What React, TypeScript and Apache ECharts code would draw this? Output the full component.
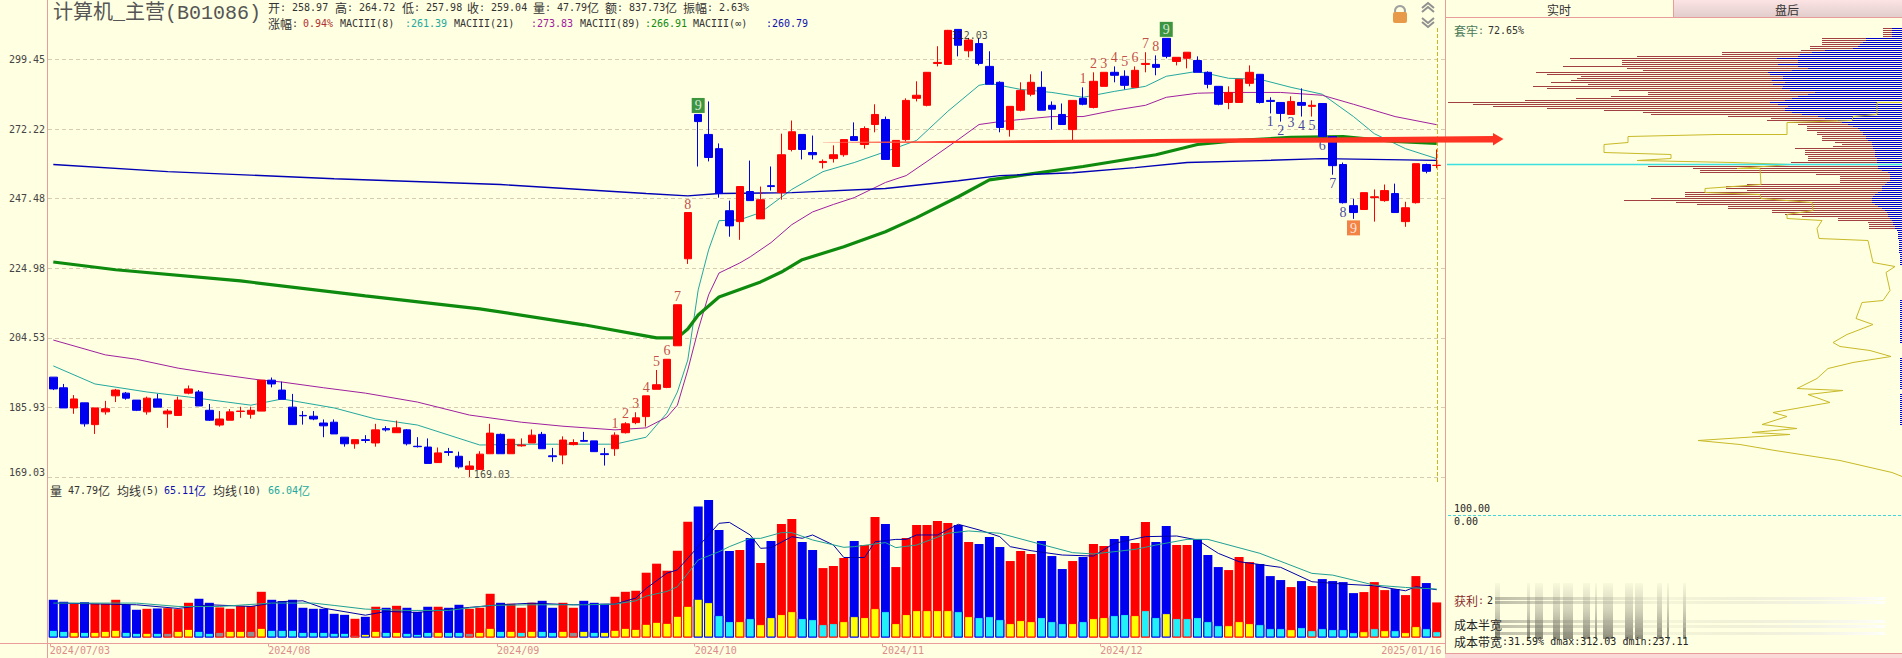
import React, { useEffect, useRef } from "react";
import * as echarts from "echarts";

const candleColors = [
  "B","B","R","B","R","R","R","B","B","R",
  "B","R","R","R","B","B","R","R","R","R",
  "R","B","B","B","B","B","B","B","B","R",
  "B","R","B","R","B","B","B","R","B","B",
  "R","R","R","B","R","R","R","B","B","R",
  "R","B","B","B","R","R","R","R","R","R",
  "R","R","B","B","B","B","R","B","R","B",
  "R","R","B","B","R","R","R","B","R","R",
  "B","R","R","R","R","R","R","B","R","B",
  "B","B","R","R","R","B","B","B","R","B",
  "R","R","B","B","R","R","B","B","R","R",
  "B","B","B","R","R","R","B","B","B","R",
  "B","R","B","B","B","B","R","R","R","B",
  "R","R","B","R",
];
const bodyTops = [
  193.8,191.0,188.1,187.1,185.8,185.6,190.4,189.6,187.8,188.3,
  188.1,185.0,187.8,190.7,189.9,185.2,183.0,184.8,185.0,185.2,
  193.0,193.0,190.4,186.0,183.9,183.7,182.0,182.2,178.5,177.9,
  177.9,180.3,180.6,180.8,180.3,176.3,176.1,174.7,175.0,173.9,
  171.6,174.4,179.5,179.2,178.0,176.6,179.0,179.2,174.0,177.8,
  177.2,177.7,177.6,174.5,179.0,181.8,183.3,188.9,191.8,198.6,
  214.0,242.8,277.7,270.2,265.0,243.4,251.6,249.9,247.1,251.9,
  262.8,271.2,270.2,263.6,260.4,262.8,268.3,269.4,272.4,277.7,
  275.8,268.0,283.1,285.1,294.2,298.2,311.6,312.0,307.5,306.0,
  296.6,290.2,280.8,287.0,290.2,288.2,281.2,277.7,283.1,283.9,
  290.6,294.2,294.2,292.6,295.0,297.8,297.4,308.2,300.3,302.4,
  299.0,294.2,288.6,286.2,291.4,294.2,293.4,283.1,282.3,282.7,
  282.3,281.2,281.9,269.4,259.3,245.1,249.5,248.1,250.2,249.2,
  244.4,259.6,259.3,259.04,
];
const bodyBottoms = [
  190.7,185.8,185.8,181.8,181.6,184.8,188.9,188.3,185.2,184.8,
  186.0,184.3,183.9,189.6,186.3,182.7,181.5,182.7,184.9,184.2,
  185.0,192.0,188.0,181.6,183.8,183.0,181.3,179.3,176.9,176.9,
  177.7,177.1,180.3,179.6,176.9,176.2,172.2,172.4,174.8,171.4,
  170.8,170.8,174.5,174.5,174.5,176.4,177.1,175.7,173.8,174.2,
  176.7,177.5,175.0,174.3,175.7,179.6,182.1,183.6,190.6,191.1,
  202.3,227.9,275.0,261.8,249.2,238.4,239.8,246.8,240.7,251.6,
  249.5,264.7,264.7,262.8,260.0,261.4,262.8,268.0,266.5,273.9,
  261.1,258.6,268.3,283.9,281.2,297.8,297.4,305.3,303.0,297.8,
  289.4,272.8,272.0,279.3,285.5,279.3,279.7,273.9,272.0,281.6,
  280.4,288.6,293.0,289.0,288.2,297.4,296.2,300.7,298.6,299.9,
  294.2,289.4,281.6,282.3,282.3,289.8,282.3,282.7,278.1,277.7,
  281.2,280.8,269.4,258.9,246.1,242.8,243.8,247.8,246.8,242.8,
  239.8,246.1,256.9,258.97,
];
const highs = [
  193.8,192.0,189.1,187.1,185.8,187.6,190.7,189.9,187.8,188.7,
  189.4,185.5,188.7,191.6,190.4,186.8,185.0,185.5,186.1,186.1,
  193.0,193.7,192.6,189.4,185.0,185.0,182.9,182.9,178.5,177.9,
  179.0,181.8,181.2,182.6,180.5,178.5,178.2,176.0,175.9,175.0,
  172.8,175.1,181.8,179.4,178.0,178.2,180.4,179.8,175.9,178.7,
  178.0,179.8,177.6,175.9,179.7,182.2,184.7,188.9,195.7,198.6,
  214.0,242.8,277.7,282.7,266.9,246.8,251.6,260.7,251.6,258.6,
  270.5,275.4,270.2,269.8,261.1,266.2,268.3,274.7,273.2,281.6,
  276.9,268.0,283.9,290.6,294.2,304.9,311.8,312.03,308.4,308.4,
  302.8,290.6,280.8,290.2,293.4,294.6,282.7,281.9,283.1,288.2,
  294.2,294.2,296.6,295.0,296.6,302.4,301.1,308.2,300.3,302.4,
  300.7,294.6,288.6,288.6,291.4,297.0,293.4,284.3,282.3,284.7,
  287.8,283.1,281.9,269.4,260.0,247.4,249.5,250.6,252.3,252.6,
  246.4,259.6,259.6,264.72,
];
const lows = [
  190.4,185.8,184.3,181.1,179.3,184.1,187.3,187.9,185.0,184.1,
  186.0,180.8,183.9,189.3,186.3,182.5,181.1,182.7,183.3,183.1,
  185.0,191.1,188.0,181.6,181.6,182.7,178.5,179.3,176.2,175.7,
  177.1,176.2,179.9,179.6,176.5,176.0,172.2,172.4,174.0,171.0,
  169.03,170.8,174.5,174.5,174.5,176.2,177.1,175.7,172.6,172.0,
  176.5,177.4,175.0,171.7,174.0,179.4,181.7,181.1,190.6,190.9,
  202.3,226.3,258.6,260.4,247.8,234.9,233.9,246.8,240.7,250.2,
  247.1,264.0,261.1,261.1,257.9,260.0,262.1,268.0,265.0,271.0,
  261.1,258.6,267.6,282.7,280.8,296.6,297.4,300.7,300.3,297.0,
  289.4,271.0,269.4,278.9,284.7,279.3,272.0,273.9,267.6,281.2,
  280.0,288.6,290.2,287.4,288.2,294.2,293.0,299.9,297.0,295.8,
  294.2,287.8,281.2,279.7,282.3,288.6,281.9,278.1,275.0,277.7,
  276.9,276.9,269.4,255.7,245.8,240.7,243.8,239.8,246.4,242.8,
  238.1,245.8,256.2,257.98,
];
const volumes = [
  51.4,48.7,46.0,48.2,46.0,46.0,51.4,44.6,37.8,39.1,
  39.6,40.0,38.7,47.3,52.8,47.3,41.0,39.1,42.8,42.8,
  62.3,51.4,49.6,51.4,40.5,39.1,39.1,32.3,30.9,25.5,
  28.2,41.9,40.5,43.2,40.5,35.0,41.9,41.9,40.5,44.6,
  39.1,40.5,59.6,47.3,46.0,40.5,47.3,50.0,40.5,47.3,
  40.5,50.0,47.3,46.0,55.5,62.3,63.7,88.3,100.6,91.0,
  118.3,157.9,178.4,187.5,146.5,117.8,119.2,135.6,101.5,131.5,
  154.7,161.5,130.1,119.2,94.6,97.4,108.3,131.5,126.0,164.3,
  154.7,96.0,135.6,153.3,153.3,158.8,156.1,153.3,130.1,127.4,
  137.0,123.3,104.2,117.8,113.8,131.5,111.0,93.3,104.2,109.7,
  127.4,124.7,134.2,138.3,128.8,157.4,130.1,152.0,126.0,126.0,
  134.2,112.4,96.0,91.9,109.7,102.8,100.1,83.7,78.3,68.7,
  76.9,70.1,79.6,76.9,75.5,60.5,61.9,75.5,64.6,66.0,
  57.8,83.7,74.2,47.79,
];
const innerVolumes = [
  10.5,9.1,7.7,7.7,7.7,9.1,10.5,7.7,6.4,6.4,
  6.4,6.4,9.1,11.8,9.1,6.4,7.7,9.1,9.1,9.1,
  13.2,10.5,10.5,10.5,7.7,7.7,7.7,6.4,6.4,3.6,
  5.0,9.1,7.7,7.7,6.4,5.0,7.7,7.7,7.7,7.7,
  6.4,7.7,13.2,9.1,9.1,7.7,9.1,9.1,7.7,9.1,
  7.7,9.1,7.7,7.7,10.5,13.2,11.8,18.7,21.4,20.0,
  29.6,43.2,52.8,48.2,30.5,22.3,22.3,26.4,18.2,27.8,
  31.9,35.9,26.4,25.0,18.2,19.6,22.3,29.1,27.8,40.0,
  35.9,19.6,31.9,37.3,37.3,37.3,37.3,35.9,29.1,27.8,
  29.1,25.0,19.6,23.7,22.3,27.8,22.3,19.6,19.6,22.3,
  26.4,27.8,30.5,31.9,30.5,37.3,27.8,33.2,26.4,26.4,
  27.8,22.3,16.8,16.8,22.3,19.6,18.2,12.7,12.7,11.4,
  14.1,10.0,12.7,11.4,11.4,7.3,8.6,12.7,10.0,10.0,
  7.3,15.5,12.7,8.6,
];
const innerKinds =
  "ccycyyyccycgyyccgyygy" + "ccccccccgyycycccyccg" + "yycycyccygyc" + "yyyyyyyyyy" +
  "yccycyyyycccc" + "yyyycyyyyyycy" + "cccyyyccc" + "ycyyccyccycccccyyyccc" + "yccccccycyc" + "yycc";

const ma8Line = [
  [0,196.8],[4,192.0],[9,189.9],[13,188.6],[19,186.5],[22,188.1],[27,185.8],[31,183.0],[35,181.5],
  [41,176.6],[46,176.8],[50,176.8],[54,176.8],[57,178.5],[59,184.5],[60,189.9],[61,198.4],[62,218.4],
  [63,230.7],[64,240.1],[66,240.4],[68,242.8],[71,250.6],[74,256.8],[77,260.0],[80,263.9],[83,268.0],
  [86,278.9],[89,289.0],[90,289.8],[93,287.4],[96,286.2],[99,284.3],[102,286.6],[105,288.6],[107,292.6],
  [110,294.6],[113,291.8],[116,291.4],[119,288.2],[122,285.5],[125,276.9],[127,270.5],[130,265.0],[133,261.39],
];
const ma21Line = [
  [0,203.9],[5,199.8],[8,198.6],[12,196.2],[15,194.9],[20,193.0],[22,192.5],[26,191.0],[30,189.6],
  [35,187.3],[40,184.0],[45,182.2],[49,181.2],[54,180.3],[57,180.8],[59,183.5],[60,186.5],[61,195.7],
  [62,206.8],[63,216.9],[64,223.5],[66,226.6],[67,228.5],[69,233.0],[71,238.8],[73,243.0],[75,245.5],
  [77,247.8],[80,253.0],[82,255.4],[84,260.4],[87,268.3],[89,273.9],[91,275.0],[93,275.8],[96,276.9],
  [99,276.9],[102,279.3],[105,281.2],[107,284.3],[110,285.9],[113,286.2],[118,286.2],[122,285.1],
  [125,281.6],[129,276.9],[133,273.83],
];
const ma89Line = [
  [0,226.9],[6,224.5],[18,221.1],[30,216.6],[41,212.8],[51,208.2],[58,204.5],[60,204.5],[61,207.0],
  [62,211.0],[64,216.3],[68,220.8],[70,223.8],[72,227.6],[76,231.7],[80,236.5],[83,241.1],[87,248.1],
  [90,253.9],[94,256.0],[99,258.6],[106,262.8],[110,266.5],[114,268.0],[119,269.1],[124,269.4],[129,267.6],[133,266.91],
];
const maInfLine = [
  [0,259.3],[11,256.8],[27,254.3],[43,252.3],[57,249.2],[61,248.4],[64,249.2],[71,249.5],[80,250.9],
  [87,253.6],[91,255.4],[98,256.4],[104,258.2],[109,260.0],[116,260.7],[122,261.4],[133,260.79],
];
const volMa5Line = [
  [0,47],[8,44.6],[12,39.6],[15,44.6],[19,42.3],[22,49],[24,50],[26,40],[30,30.4],[32,35.5],[35,34.1],
  [40,41],[43,44.6],[46,46.8],[50,44.6],[54,45.5],[56,53.7],[57,66.9],[59,87.8],[60,92.1],[62,123.9],
  [64,155.6],[65,156.9],[67,139.7],[68,121.5],[69,122.4],[71,137.4],[72,135.2],[73,139.7],[75,126],
  [76,109],[78,109],[79,130.5],[81,133.7],[82,133.7],[83,139.7],[85,139.7],[87,154.3],[89,146.6],
  [91,137.4],[92,123.8],[94,118.3],[97,112.4],[100,111],[102,128.3],[105,137.4],[108,138.3],[110,132.9],
  [112,114.7],[114,103.3],[118,95.6],[121,76],[124,72.8],[127,70.5],[130,63.7],[131,69.2],[133,65.11],
];
const volMa10Line = [
  [0,46.9],[8,46.9],[12,42.3],[16,42.3],[21,46.9],[25,46.9],[27,43.7],[30,38.7],[34,36.9],[38,36.9],
  [42,43.7],[46,44.6],[51,44.6],[54,45.5],[56,50],[57,56.4],[59,62.8],[60,69.2],[62,105.6],[64,116.9],
  [65,123.8],[67,135.1],[68,135.1],[70,142.9],[71,142.9],[73,132.9],[76,122.9],[77,123.8],[80,129.3],
  [81,122.5],[83,126],[86,142],[88,145.2],[91,142],[94,130.6],[98,115.6],[100,113.8],[104,120.1],
  [106,126],[109,133.7],[111,133.7],[116,114.7],[121,87.4],[123,85],[127,71.4],[130,68.2],[133,66.04],
];

const chipRed = [
  19,19,19,19,19,80,80,80,80,92,
  92,101,180,180,265,332,280,280,280,339,
  275,259,366,355,321,325,331,351,314,369,
  355,283,254,254,291,326,377,454,429,409,
  355,298,259,251,174,131,135,115,104,95,
  95,95,85,85,80,80,80,67,60,69,
  107,97,97,97,94,94,94,111,110,254,
  209,202,202,86,62,62,62,62,155,176,
  176,155,217,217,217,251,278,226,205,174,
  174,130,130,117,100,64,64,34,33,33,
  33,5,
];
const chipBlue = [
  10,10,10,10,10,36,36,39,42,44,
  49,77,90,102,104,125,104,104,124,104,
  94,110,134,132,119,119,130,117,129,119,
  120,112,87,94,104,110,117,132,124,114,
  117,117,110,100,84,77,64,60,54,49,
  44,42,39,39,36,36,34,30,30,29,
  29,27,27,27,27,25,25,25,25,24,
  24,20,14,12,12,12,12,15,17,20,
  20,20,24,27,29,30,30,30,27,24,
  20,17,15,14,14,12,10,9,9,7,
  7,5,4,4,4,4,3,3,3,3,
  3,3,3,2,2,2,2,2,2,0,
  0,0,0,0,0,0,0,0,0,0,
  0,0,0,0,0,0,2,2,2,2,
  2,2,2,2,2,2,2,2,2,2,
  2,2,2,2,2,2,2,2,0,0,
  0,0,0,0,0,2,2,2,2,2,
  2,2,2,2,2,2,2,2,2,2,
  2,0,0,2,2,2,2,2,2,2,
  2,2,2,2,2,2,2,2,2,0,
];
const costCurve = [
  [0,37],[25,37],[25,43],[49,44],[50,46],[115,47],[115,53],[185,53],[274,54],[274,57],[298,58],[298,62],
  [231,63],[231,65],[265,66],[169,67],[112,68],[165,70],[142,70],[141,78],[197,80],[197,82],[142,83],
  [141,85],[90,87],[89,91],[115,93],[115,95],[80,96],[85,100],[83,105],[34,106],[29,117],[7,119],[16,122],
  [12,131],[19,136],[40,137],[46,145],[29,148],[55,153],[69,157],[62,159],[32,161],[11,164],[49,167],
  [74,170],[85,175],[105,180],[59,181],[94,183],[72,187],[129,192],[115,194],[140,198],[105,200],[150,202],
  [112,203],[204,206],[162,208],[127,211],[62,216],[10,222],[0,224],
];
const currentPriceRow = [[455,68],[0,68]];

const yTickLabels = ["169.03","185.93","204.53","224.98","247.48","272.22","299.45"];
const dateLabels: Record<number,string> = {
  0:"2024/07/03",21:"2024/08",43:"2024/09",62:"2024/10",80:"2024/11",101:"2024/12",128:"2025/01/16",
};
const sequenceLabels = [
  [54,"1","r"],[55,"2","r"],[56,"3","r"],[57,"4","r"],[58,"5","r"],[59,"6","r"],[60,"7","r"],[61,"8","r"],
  [99,"1","r"],[100,"2","r"],[101,"3","r"],[102,"4","r"],[103,"5","r"],[104,"6","r"],[105,"7","r"],[106,"8","r"],
  [117,"1","b"],[118,"2","b"],[119,"3","b"],[120,"4","b"],[121,"5","b"],[122,"6","b"],[123,"7","b"],[124,"8","b"],
  [62,"9","g"],[107,"9","g"],[125,"9","o"],
] as [number,string,string][];

const MONO = '"DejaVu Sans Mono", monospace';
const CJK = '"Noto Sans CJK SC", sans-serif';
const toK = (p: number) => Math.log(p / 169.03) / Math.log(1.1);
const KMAX = 450 / 69.6;
const RED = "#FF0000";
const BLUE = "#0000F0";
const PINK = "#E89C9C";
const LEFT = 48.1;
const WIDTH = 1393.8;

function runs(x: number, y: number, str: string, fill: string, z = 50) {
  const out: any[] = [];
  let cx = x;
  for (const part of str.match(/[\x00-\x7f∞]+|[^\x00-\x7f∞]+/g) || []) {
    const ascii = /^[\x00-\x7f∞]/.test(part);
    out.push({
      type: "text", x: cx, y, z,
      style: { text: part, fill, fontSize: ascii ? 10 : 12, fontFamily: ascii ? MONO : CJK, verticalAlign: "middle", align: "left" },
    });
    cx += part.length * (ascii ? 6 : 12);
  }
  return out;
}
const hline = (x1: number, x2: number, y: number, stroke: string, extra: any = {}) => ({
  type: "line", z: 40, shape: { x1, y1: y, x2, y2: y }, style: { stroke, lineWidth: 1, ...extra },
});
const vline = (x: number, y1: number, y2: number, stroke: string, extra: any = {}) => ({
  type: "line", z: 40, shape: { x1: x, y1, x2: x, y2 }, style: { stroke, lineWidth: 1, ...extra },
});

function smear() {
  const stripes = [[1495,5],[1527,3],[1535,8],[1553,7],[1563,10],[1583,7],[1595,2],[1603,10],[1625,8],[1635,8],[1657,5],[1667,2],[1683,3]];
  const bands = [597,601,620,625,632];
  const out: any[] = [];
  stripes.forEach(([x, w]) => out.push({
    type: "rect", z: 60, shape: { x, y: 583, width: w, height: 56 },
    style: { fill: { type: "linear", x: 0, y: 0, x2: 0, y2: 1, colorStops: [
      { offset: 0, color: "rgba(90,90,80,0.04)" }, { offset: 0.5, color: "rgba(90,90,80,0.28)" }, { offset: 1, color: "rgba(60,60,50,0.6)" },
    ] } },
  }));
  bands.forEach((y) => out.push({
    type: "rect", z: 60, shape: { x: 1495, y, width: 390, height: 3 },
    style: { fill: { type: "linear", x: 0, y: 0, x2: 1, y2: 0, colorStops: [
      { offset: 0, color: "rgba(90,90,80,0.4)" }, { offset: 0.45, color: "rgba(200,200,180,0.18)" }, { offset: 1, color: "rgba(255,255,255,0.85)" },
    ] } },
  }));
  return out;
}

function buildOption() {
  const idx = bodyTops.map((_, i) => String(i));
  const candleData = bodyTops.map((t, i) => {
    const up = candleColors[i] === "R";
    return [toK(up ? bodyBottoms[i] : t), toK(up ? t : bodyBottoms[i]), toK(lows[i]), toK(highs[i])];
  });
  const labelStyle = (kind: string) => {
    if (kind === "g") return { color: "#fff", backgroundColor: "#0E7A16", padding: [1, 3, 0, 3], position: "top" };
    if (kind === "o") return { color: "#fff", backgroundColor: "#F0641E", padding: [1, 3, 0, 3], position: "bottom" };
    if (kind === "b") return { color: "#101090", position: "bottom" };
    return { color: "#B42020", position: "top" };
  };
  const markers: any[] = sequenceLabels.map(([i, text, kind]) => {
    const below = kind === "b" || kind === "o";
    return {
      value: [i, toK(below ? lows[i] : highs[i])],
      label: { show: true, formatter: text, distance: 1, fontSize: 14, fontFamily: '"Liberation Serif", serif', ...labelStyle(kind) },
    };
  });
  markers.push({
    value: [87, toK(312.03)],
    label: { show: true, formatter: "312.03", position: "right", distance: 0, offset: [-7, 6], color: "#222", fontSize: 10, fontFamily: MONO },
  });
  markers.push({
    value: [40, toK(169.03)],
    label: { show: true, formatter: "169.03", position: "right", distance: 4, offset: [0, -3], color: "#222", fontSize: 10, fontFamily: MONO },
  });

  const priceLine = (data: number[][], color: string, width: number, name: string) => ({
    name, type: "line", xAxisIndex: 0, yAxisIndex: 0, showSymbol: false, symbol: "none", silent: true, clip: false,
    lineStyle: { color, width }, data: data.map(([i, p]) => [i, toK(p)]), z: 3,
  });
  const volLine = (data: number[][], color: string, name: string) => ({
    name, type: "line", xAxisIndex: 1, yAxisIndex: 1, showSymbol: false, symbol: "none", silent: true,
    lineStyle: { color, width: 1 }, data, z: 5,
  });
  const barColor = (i: number) => (candleColors[i] === "R" ? RED : BLUE);
  const kindColor: Record<string,string> = { y: "#FFFF00", c: "#22F0F8", g: "#909090" };
  const dateNames = bodyTops.map((_, i) => dateLabels[i] || "");
  const rows = Array.from({ length: 230 }, (_, i) => String(i));
  const padRows = (a: number[]) => rows.map((_, i) => a[i] ?? 0);

  const graphic: any[] = [
    vline(47.5, 0, 658, PINK),
    vline(1445.5, 0, 653, PINK),
    hline(0, 1445, 643.5, PINK),
    vline(1437.5, 28, 482, "#C8B820", { lineDash: [4, 2] }),
    { type: "rect", z: 30, shape: { x: 1673, y: 0, width: 229, height: 17 },
      style: { fill: { type: "linear", x: 0, y: 0, x2: 0, y2: 1, colorStops: [{ offset: 0, color: "#FCE4E4" }, { offset: 1, color: "#E2CCCC" }] } } },
    vline(1673.5, 0, 17, PINK),
    hline(1445, 1902, 17.5, PINK),
    { type: "text", z: 50, x: 1559, y: 9, style: { text: "实时", fill: "#333", fontSize: 12, fontFamily: CJK, align: "center", verticalAlign: "middle" } },
    { type: "text", z: 50, x: 1787, y: 9, style: { text: "盘后", fill: "#333", fontSize: 12, fontFamily: CJK, align: "center", verticalAlign: "middle" } },
    { type: "rect", z: 30, shape: { x: 1445, y: 653, width: 457, height: 5 }, style: { fill: "#FAD8D8" } },
    hline(1445, 1902, 653.5, PINK),
    { type: "text", z: 50, x: 53, y: 13, style: { text: "计算机_主营(B01086)", fill: "#555", fontSize: 20, fontFamily: '"Liberation Mono","Noto Sans CJK SC",monospace', verticalAlign: "middle" } },
    ...runs(268, 7, "开: 258.97", "#333"),
    ...runs(335, 7, "高: 264.72", "#333"),
    ...runs(402, 7, "低: 257.98", "#333"),
    ...runs(467, 7, "收: 259.04", "#333"),
    ...runs(533, 7, "量: 47.79亿", "#333"),
    ...runs(605, 7, "额: 837.73亿", "#333"),
    ...runs(683, 7, "振幅: 2.63%", "#333"),
    ...runs(268, 23, "涨幅:", "#333"),
    ...runs(303, 23, "0.94%", "#B03030"),
    ...runs(340, 23, "MACIII(8)", "#333"),
    ...runs(405, 23, ":261.39", "#22A8A0"),
    ...runs(454, 23, "MACIII(21)", "#333"),
    ...runs(531, 23, ":273.83", "#A020A0"),
    ...runs(580, 23, "MACIII(89)", "#333"),
    ...runs(645, 23, ":266.91", "#108A10"),
    ...runs(693, 23, "MACIII(∞)", "#333"),
    ...runs(766, 23, ":260.79", "#1010B0"),
    ...runs(50, 490, "量 47.79亿", "#333"),
    ...runs(117, 490, "均线(5)", "#333"),
    ...runs(164, 490, "65.11亿", "#1010B0"),
    ...runs(213, 490, "均线(10)", "#333"),
    ...runs(268, 490, "66.04亿", "#22A8A0"),
    ...runs(1454, 30, "套牢:", "#4A7A5A"),
    ...runs(1488, 30, "72.65%", "#333"),
    ...runs(1454, 508, "100.00", "#222"),
    ...runs(1454, 521, "0.00", "#222"),
    ...runs(1454, 600, "获利:", "#8A3030"),
    ...runs(1487, 600, "2", "#222"),
    ...runs(1454, 624, "成本半宽", "#222"),
    ...runs(1454, 641, "成本带宽:31.59% dmax:312.03 dmin:237.11", "#222"),
    hline(1448, 1902, 515.5, "#40D8D8", { lineDash: [3, 2] }),
    { type: "polygon", z: 45, shape: { points: [[823,142],[1000,140.5],[1493,136],[1493,133],[1503.5,139],[1493,145.5],[1493,142.5],[1000,143],[823,143]] },
      style: { fill: { type: "linear", x: 0, y: 0, x2: 1, y2: 0, colorStops: [
        { offset: 0, color: "rgba(255,130,110,0.35)" }, { offset: 0.07, color: "rgba(255,90,70,0.8)" }, { offset: 0.2, color: "#FF3322" }, { offset: 1, color: "#FF3322" },
      ] } } },
    { type: "circle", z: 42, shape: { cx: 1400, cy: 11, r: 5 }, style: { fill: "none", stroke: "#A0A0A0", lineWidth: 2 } },
    { type: "rect", z: 43, shape: { x: 1393, y: 12, width: 14, height: 11, r: 2 }, style: { fill: "#E89A48" } },
    { type: "polyline", z: 42, shape: { points: [[1422,8],[1428,3],[1434,8]] }, style: { fill: "none", stroke: "#909090", lineWidth: 2 } },
    { type: "polyline", z: 42, shape: { points: [[1422,12],[1428,7],[1434,12]] }, style: { fill: "none", stroke: "#909090", lineWidth: 2 } },
    { type: "polyline", z: 42, shape: { points: [[1422,18],[1428,23],[1434,18]] }, style: { fill: "none", stroke: "#909090", lineWidth: 2 } },
    { type: "polyline", z: 42, shape: { points: [[1422,22],[1428,27],[1434,22]] }, style: { fill: "none", stroke: "#909090", lineWidth: 2 } },
    ...smear(),
  ];

  return {
    animation: false,
    backgroundColor: "#FFFFE1",
    tooltip: { show: false },
    grid: [
      { left: LEFT, top: 27, width: WIDTH, height: 450 },
      { left: LEFT, top: 490, width: WIDTH, height: 147.5 },
      { left: 48, top: 27, width: 1397, height: 450 },
      { left: LEFT - 3.5, top: 637.5, width: WIDTH, height: 6 },
      { left: 1447, top: 27.5, width: 455, height: 460 },
    ],
    xAxis: [
      { type: "category", gridIndex: 0, data: idx, show: false, boundaryGap: true },
      { type: "category", gridIndex: 1, data: idx, show: false, boundaryGap: true },
      { type: "category", gridIndex: 2, data: idx, show: false, boundaryGap: true },
      {
        type: "category", gridIndex: 3, data: dateNames, boundaryGap: true, position: "bottom",
        axisLine: { show: false },
        axisTick: { show: true, length: 3, inside: false, alignWithLabel: true, interval: (i: number) => !!dateLabels[i] && i !== 128, lineStyle: { color: PINK } },
        axisLabel: { show: true, interval: (i: number) => !!dateLabels[i], align: "left", margin: 2, color: "#DC8C8C", fontSize: 10, fontFamily: MONO },
      },
      { type: "value", gridIndex: 4, inverse: true, min: 0, max: 455, show: false },
    ],
    yAxis: [
      { type: "value", gridIndex: 0, min: 0, max: KMAX, show: false },
      { type: "value", gridIndex: 1, min: 0, max: 201, show: false },
      {
        type: "value", gridIndex: 2, min: 0, max: KMAX, interval: 1,
        axisLine: { show: false }, axisTick: { show: false },
        splitLine: { show: true, showMaxLine: false, lineStyle: { color: "#D8CCB0", type: [4, 3], width: 1 } },
        axisLabel: {
          show: true, showMaxLabel: false, margin: 3, color: "#444", fontSize: 10, fontFamily: MONO,
          verticalAlignMinLabel: "bottom",
          formatter: (v: number) => yTickLabels[Math.round(v)] ?? "",
        },
      },
      { type: "value", gridIndex: 3, min: 0, max: 1, show: false },
      { type: "category", gridIndex: 4, data: rows, inverse: true, show: false },
    ],
    series: [
      {
        name: "K线", type: "candlestick", xAxisIndex: 0, yAxisIndex: 0, barWidth: 8, data: candleData, z: 4, clip: false,
        itemStyle: { color: RED, color0: BLUE, borderColor: RED, borderColor0: BLUE, borderWidth: 1 },
      },
      priceLine(ma8Line, "#22A8A0", 1, "MACIII(8)"),
      priceLine(ma21Line, "#A020A0", 1, "MACIII(21)"),
      priceLine(ma89Line, "#0E8A0E", 3.2, "MACIII(89)"),
      priceLine(maInfLine, "#0000B4", 1.4, "MACIII(∞)"),
      {
        name: "labels", type: "scatter", xAxisIndex: 0, yAxisIndex: 0, symbolSize: 1, silent: true, clip: false,
        itemStyle: { color: "rgba(0,0,0,0)" }, data: markers, z: 8,
      },
      {
        name: "量", type: "bar", xAxisIndex: 1, yAxisIndex: 1, barWidth: 9, barGap: "-100%", z: 2,
        data: volumes.map((v, i) => ({ value: v, itemStyle: { color: barColor(i) } })),
      },
      {
        name: "内量", type: "bar", xAxisIndex: 1, yAxisIndex: 1, barWidth: 9, barGap: "-100%", z: 3,
        data: innerVolumes.map((v, i) => ({
          value: v, itemStyle: { color: kindColor[innerKinds[i]] || kindColor.c, borderColor: barColor(i), borderWidth: 1 },
        })),
      },
      volLine(volMa5Line, "#0000A8", "均线(5)"),
      volLine(volMa10Line, "#1FA095", "均线(10)"),
      {
        name: "获利筹码", type: "bar", xAxisIndex: 4, yAxisIndex: 4, barWidth: 1, barGap: "-100%", silent: true, z: 2,
        itemStyle: { color: "#A04040" }, data: padRows(chipRed),
      },
      {
        name: "套牢筹码", type: "bar", xAxisIndex: 4, yAxisIndex: 4, barWidth: 1, barGap: "-100%", silent: true, z: 3,
        itemStyle: { color: "#0000C8" }, data: padRows(chipBlue),
      },
      {
        name: "成本曲线", type: "line", xAxisIndex: 4, yAxisIndex: 4, showSymbol: false, symbol: "none", silent: true,
        lineStyle: { color: "#C8BA28", width: 1 }, data: costCurve, z: 5,
      },
      {
        name: "现价", type: "line", xAxisIndex: 4, yAxisIndex: 4, showSymbol: false, symbol: "none", silent: true,
        lineStyle: { color: "#3CE0E0", width: 1.4 }, data: currentPriceRow, z: 6,
      },
    ],
    graphic: { elements: graphic },
  };
}

export default function App() {
  const ref = useRef<HTMLDivElement>(null);
  useEffect(() => {
    document.body.style.margin = "0";
    const chart = echarts.init(ref.current!, undefined, { renderer: "svg" });
    chart.setOption(buildOption() as any);
    return () => chart.dispose();
  }, []);
  return <div ref={ref} style={{ position: "absolute", left: 0, top: 0, width: 1902, height: 658 }} />;
}
